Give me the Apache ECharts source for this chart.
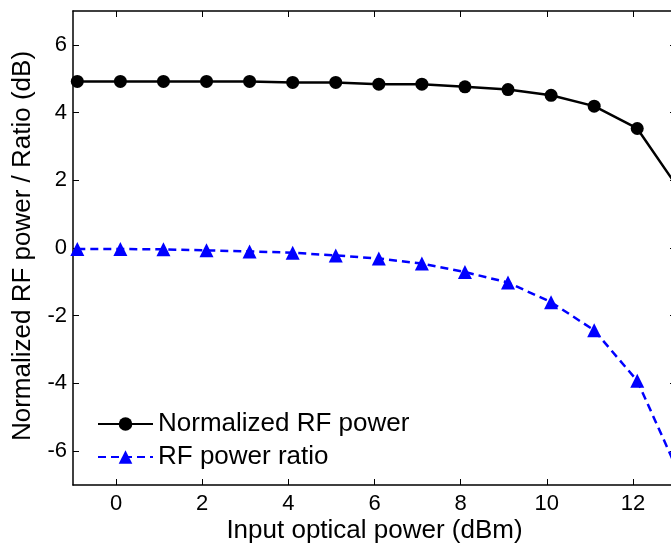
<!DOCTYPE html>
<html>
<head>
<meta charset="utf-8">
<script src="https://cdn.jsdelivr.net/npm/echarts@6/dist/echarts.min.js"></script>
<style>
  html, body { margin: 0; padding: 0; background: #fff; }
  #chart { width: 671px; height: 545px; }
</style>
</head>
<body>
<div id="chart"></div>
<script>
// Input optical power (dBm) at each measurement
const inputPower = [-0.9, 0.1, 1.1, 2.1, 3.1, 4.1, 5.1, 6.1, 7.1, 8.1, 9.1, 10.1, 11.1, 12.1, 13.1];
// Normalized RF power (dB)
const normRfPower = [4.92, 4.92, 4.92, 4.92, 4.92, 4.89, 4.89, 4.84, 4.84, 4.76, 4.68, 4.51, 4.19, 3.53, 1.68];
// RF power ratio (dB)
const rfPowerRatio = [-0.03, -0.03, -0.04, -0.07, -0.10, -0.14, -0.22, -0.31, -0.46, -0.71, -1.02, -1.60, -2.43, -3.92, -6.75];
// Tick labels
const xTicks = [0, 2, 4, 6, 8, 10, 12];
const yTicks = [-6, -4, -2, 0, 2, 4, 6];

const FONT = 'Liberation Sans, Arial, sans-serif';
const pairs = (xs, ys) => xs.map((x, i) => [x, ys[i]]);

const axisLine = { show: true, onZero: false, lineStyle: { color: '#000', width: 1.5 } };
const axisTick = (vals) => ({ show: true, inside: true, length: 6, customValues: vals, lineStyle: { color: '#000', width: 1 } });

const chart = echarts.init(document.getElementById('chart'), null, { renderer: 'canvas' });
chart.setOption({
  backgroundColor: '#fff',
  animation: false,
  grid: { left: 73, right: -5, top: 11, bottom: 60, containLabel: false, outerBoundsMode: 'none' },
  xAxis: [
    {
      type: 'value', min: -1, max: 13, position: 'bottom',
      name: 'Input optical power (dBm)', nameLocation: 'middle', nameGap: 33, nameMoveOverlap: false,
      nameTextStyle: { fontFamily: FONT, fontSize: 26, color: '#000' },
      axisLine, axisTick: axisTick(xTicks),
      axisLabel: { customValues: xTicks, fontFamily: FONT, fontSize: 22, color: '#000', margin: 8 },
      splitLine: { show: false }
    },
    {
      type: 'value', min: -1, max: 13, position: 'top',
      axisLine, axisTick: axisTick(xTicks),
      axisLabel: { show: false }, splitLine: { show: false }
    }
  ],
  yAxis: [
    {
      type: 'value', min: -7, max: 7, position: 'left',
      name: 'Normalized RF power / Ratio (dB)', nameLocation: 'middle', nameGap: 37,
      nameTextStyle: { fontFamily: FONT, fontSize: 26, color: '#000', padding: [0, 0, 0, 4] },
      axisLine, axisTick: axisTick(yTicks),
      axisLabel: { customValues: yTicks, fontFamily: FONT, fontSize: 22, color: '#000', margin: 6 },
      splitLine: { show: false }
    },
    {
      type: 'value', min: -7, max: 7, position: 'right',
      axisLine, axisTick: axisTick(yTicks),
      axisLabel: { show: false }, splitLine: { show: false }
    }
  ],
  legend: {
    orient: 'vertical', left: 97, top: 411, padding: 0,
    itemWidth: 55, itemHeight: 17, itemGap: 7,
    textStyle: { fontFamily: FONT, fontSize: 26, color: '#000', lineHeight: 26 },
    data: ['Normalized RF power', 'RF power ratio']
  },
  series: [
    {
      name: 'Normalized RF power', type: 'line',
      data: pairs(inputPower, normRfPower),
      symbol: 'circle', symbolSize: 13,
      itemStyle: { color: '#000' },
      lineStyle: { color: '#000', width: 2.5 },
      clip: true
    },
    {
      name: 'RF power ratio', type: 'line',
      data: pairs(inputPower, rfPowerRatio),
      symbol: 'triangle', symbolSize: 14,
      itemStyle: { color: '#0000ff' },
      lineStyle: { color: '#0000ff', width: 2.5, type: [8, 5] },
      clip: true
    }
  ]
});
</script>
</body>
</html>
